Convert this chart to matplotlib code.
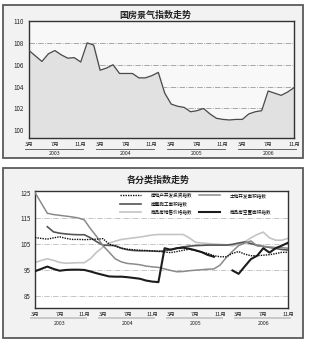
import numpy as np
import matplotlib
matplotlib.use('Agg')
import matplotlib.pyplot as plt
from matplotlib.patches import Rectangle
from matplotlib.lines import Line2D

plt.rcParams['font.family'] = ['Noto Sans CJK SC', 'DejaVu Sans']

nan = np.nan

# months on the x axis (Jan/Feb reported together, so no January)
year_months = {2003: range(3, 13), 2004: range(2, 13), 2005: range(2, 13), 2006: range(2, 12)}
periods = [(y, m) for y, ms in year_months.items() for m in ms]
tick_months = [3, 7, 11]

# 国房景气指数
climate_index = [107.3, 106.8, 106.3, 107.0, 107.3, 106.9, 106.6, 106.65, 106.25, 108.0,
                 107.8, 105.5, 105.7, 106.0, 105.2, 105.2, 105.2, 104.8, 104.8, 105.0, 105.3,
                 103.4, 102.4, 102.2, 102.1, 101.7, 101.8, 102.0, 101.5, 101.1, 101.0, 100.95,
                 101.0, 101.0, 101.5, 101.7, 101.8, 103.6, 103.4, 103.2, 103.5, 103.9]

# 各分类指数
invest = [107.6, 107.3, 107.0, 107.5, 107.9, 107.3, 106.9, 106.9, 106.8, 106.9,
          107.0, 107.2, 105.1, 104.3, 103.5, 103.1, 102.9, 102.7, 102.6, 102.5, 102.3,
          102.0, 101.8, 102.2, 102.7, 103.1, 102.6, 102.0, 101.5, 100.6, 100.2, 100.2,
          101.5, 102.2, 101.2, 100.6, 100.6, 100.8, 101.0, 101.4, 101.9, 101.9]
construction = [nan, nan, 111.8, 109.8, 109.3, 109.0, 108.8, 108.7, 108.7, 107.5,
                106.0, 104.7, 104.6, 104.5, 103.5, 102.9, 102.6, 102.5, 102.5, 102.4, 102.3,
                102.5, 103.0, 103.5, 104.0, 104.3, 104.5, 104.6, 104.7, 104.7, 104.7, 104.7,
                105.0, 105.5, 105.9, 105.3, 104.6, 104.2, 103.8, 103.4, 103.0, 102.8]
price = [97.9, 98.8, 99.4, 98.8, 98.0, 97.7, 97.8, 97.9, 97.9, 99.5,
         102.0, 103.9, 105.5, 106.2, 106.9, 107.2, 107.5, 107.8, 108.2, 108.6, 108.8,
         108.8, 108.8, 108.8, 108.8, 107.5, 105.8, 105.5, 105.3, 105.1, 105.0, 104.8,
         104.4, 105.0, 106.0, 107.5, 108.8, 109.7, 107.5, 106.6, 106.6, 107.3]
land = [125.0, 121.0, 117.0, 116.5, 116.2, 115.9, 115.6, 115.2, 114.4, 111.0,
        108.0, 104.5, 102.0, 99.4, 98.2, 97.6, 97.4, 97.1, 96.6, 96.3, 96.1,
        95.5, 94.9, 94.4, 94.5, 94.8, 95.0, 95.2, 95.4, 95.5, 97.0, 99.9,
        102.3, 104.5, 105.5, 106.3, 104.4, 104.2, 104.0, 103.8, 103.7, 103.5]
vacant = [94.6, 95.5, 96.4, 95.5, 94.8, 95.1, 95.2, 95.2, 95.1, 94.5,
          93.8, 93.2, 92.6, 92.5, 92.5, 92.3, 92.0, 91.7, 91.0, 90.6, 90.4,
          103.5, 102.9, 103.5, 103.7, 103.3, 102.7, 102.0, 100.9, 100.2, nan, nan,
          94.9, 93.6, 96.5, 99.3, 100.6, 103.5, 101.8, 103.5, 104.5, 105.6]

x = np.arange(len(periods))
W, H = 310, 342

fig = plt.figure(figsize=(W / 100, H / 100), dpi=100)
fig.patch.set_facecolor('white')


def fbox(left, top, right, bottom):
    # pixel box -> figure fraction [l, b, w, h]
    return [left / W, 1 - bottom / H, (right - left) / W, (bottom - top) / H]


for l, t, r, b in [(3, 5, 303, 158), (3, 168, 303, 338)]:
    fig.patches.append(Rectangle((l / W, 1 - b / H), (r - l) / W, (b - t) / H,
                                 transform=fig.transFigure, facecolor='#f2f2f2',
                                 edgecolor='#5a5a5a', lw=1.3, zorder=-5))

fig.text(155 / W, 1 - 15 / H, '国房景气指数走势', ha='center', va='center',
         fontsize=6.5, fontweight='bold', color='#222')
fig.text(158 / W, 1 - 180 / H, '各分类指数走势', ha='center', va='center',
         fontsize=6.5, fontweight='bold', color='#222')


def month_axis(ax, label_pad, line_y, year_y, line_color, line_w):
    ticks = [i for i, (y, m) in enumerate(periods) if m in tick_months]
    ax.set_xticks(ticks)
    ax.set_xticklabels([f'{periods[i][1]}月' for i in ticks], fontsize=4)
    ax.tick_params(axis='x', length=0, pad=label_pad, colors='#222')
    tr = ax.get_xaxis_transform()
    for yr in year_months:
        yt = [i for i in ticks if periods[i][0] == yr]
        ax.plot([yt[0] - 0.6, yt[-1] + 0.3], [line_y, line_y], transform=tr,
                clip_on=False, color=line_color, lw=line_w)
        ax.text((yt[0] + yt[-1]) / 2, year_y, str(yr), transform=tr,
                ha='center', va='center', fontsize=3.8, color='#222')


# ---- top chart ----
ax1 = fig.add_axes(fbox(29, 21, 294, 138))
ax1.set_facecolor('#f8f8f8')
ax1.fill_between(x, climate_index, 99.3, color='#e1e1e1', zorder=2)
ax1.plot(x, climate_index, color='#4a4a4a', lw=0.9, zorder=3)
for g in [102, 104, 106, 108]:
    ax1.axhline(g, color='#999', lw=0.6, ls='-.', zorder=1)
ax1.set_xlim(0, len(x) - 1)
ax1.set_ylim(99.3, 110)
ax1.set_yticks([100, 102, 104, 106, 108, 110])
ax1.tick_params(axis='y', length=0, pad=4, labelsize=4.5, colors='#222')
for s in ax1.spines.values():
    s.set_color('#333')
    s.set_linewidth(1.0)
month_axis(ax1, 3, -0.094, -0.13, '#666', 0.7)

# ---- bottom chart ----
ax2 = fig.add_axes(fbox(35, 191, 288, 308))
ax2.set_facecolor('white')
for g in [85, 95, 105, 115]:
    ax2.axhline(g, color='#bbb', lw=0.6, ls='-.', zorder=1)
l_inv, = ax2.plot(x, invest, color='#111', lw=1.0, ls=(0, (1, 0.8)), zorder=5,
                  label='房地产开发投资指数')
l_con, = ax2.plot(x, construction, color='#555', lw=1.2, zorder=3, label='房屋施工面积指数')
l_pri, = ax2.plot(x, price, color='#c4c4c4', lw=1.2, zorder=2, label='商品房销售价格指数')
l_land, = ax2.plot(x, land, color='#8a8a8a', lw=1.1, zorder=3, label='土地开发面积指数')
l_vac, = ax2.plot(x, vacant, color='#1c1c1c', lw=1.5, zorder=4, label='商品房空置面积指数')
blank = Line2D([], [], color='none', label=' ')
ax2.legend([l_inv, l_con, l_pri, l_land, blank, l_vac],
           [h.get_label() for h in [l_inv, l_con, l_pri, l_land, blank, l_vac]],
           ncol=2, loc='upper left', bbox_to_anchor=((118 - 35) / 253, 1.0),
           frameon=False, fontsize=3.3, handlelength=4.6, handletextpad=2.2,
           columnspacing=1.4, labelspacing=0.75, borderaxespad=0.1, borderpad=0.3)
ax2.set_xlim(0, len(x) - 1)
ax2.set_ylim(80.4, 125.6)
ax2.set_yticks([85, 95, 105, 115, 125])
ax2.tick_params(axis='y', length=0, pad=3, labelsize=4.5, colors='#222')
for s in ax2.spines.values():
    s.set_color('#333')
    s.set_linewidth(1.0)
month_axis(ax2, 2.5, -0.085, -0.135, '#c8c8c8', 1.4)

fig.savefig('out.png', dpi=100)
